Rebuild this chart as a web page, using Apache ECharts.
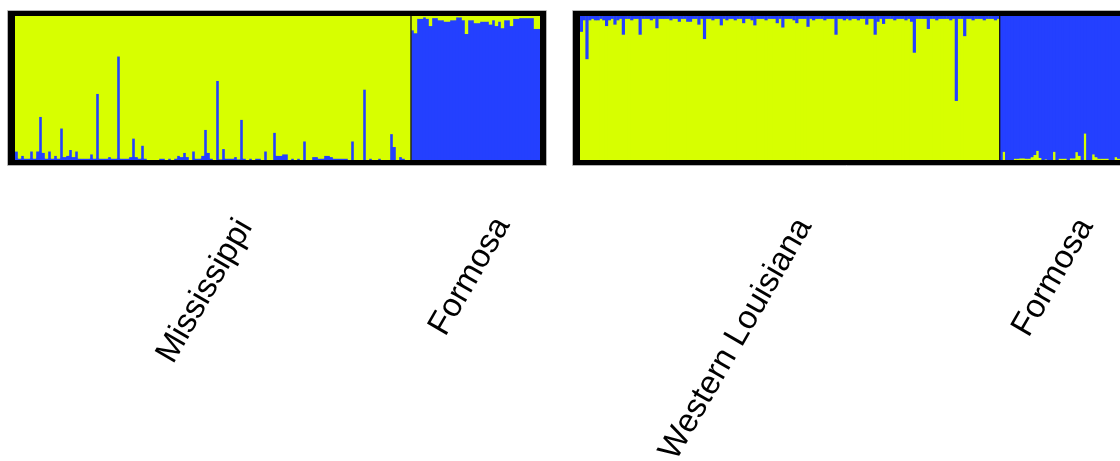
<!DOCTYPE html>
<html>
<head>
<meta charset="utf-8">
<script src="https://cdn.jsdelivr.net/npm/echarts@6/dist/echarts.min.js"></script>
<style>
  html, body { margin: 0; padding: 0; background: #fff; }
  #chart { width: 1120px; height: 461px; }
</style>
</head>
<body>
<div id="chart"></div>
<script>
// Ancestry proportions (K = 2) per individual, one value per bar.
// Mississippi: share of the blue cluster (rest is yellow)
const mississippiBlue = [
  0.06, 0.01, 0.03, 0.01, 0.01, 0.06, 0.01, 0.06, 0.30, 0.05,
  0.01, 0.06, 0.01, 0.03, 0.01, 0.22, 0.02, 0.03, 0.07, 0.02,
  0.06, 0.01, 0.01, 0.01, 0.01, 0.04, 0.01, 0.46, 0.01, 0.01,
  0.01, 0.02, 0.01, 0.01, 0.72, 0.01, 0.01, 0.01, 0.02, 0.15,
  0.02, 0.01, 0.10, 0.01, 0.00, 0.00, 0.00, 0.00, 0.01, 0.01,
  0.00, 0.01, 0.00, 0.01, 0.03, 0.02, 0.05, 0.02, 0.00, 0.06,
  0.01, 0.01, 0.03, 0.21, 0.05, 0.01, 0.00, 0.55, 0.005, 0.076,
  0.01, 0.01, 0.01, 0.02, 0.005, 0.28, 0.01, 0.00, 0.01, 0.00,
  0.01, 0.01, 0.00, 0.06, 0.00, 0.00, 0.19, 0.03, 0.03, 0.04,
  0.04, 0.00, 0.01, 0.00, 0.01, 0.00, 0.13, 0.00, 0.00, 0.02,
  0.02, 0.01, 0.01, 0.03, 0.03, 0.02, 0.01, 0.01, 0.01, 0.01,
  0.01, 0.00, 0.13, 0.00, 0.00, 0.00, 0.49, 0.00, 0.01, 0.00,
  0.00, 0.01, 0.00, 0.00, 0.00, 0.18, 0.09, 0.00, 0.02, 0.01,
  0.00, 0.00
];
// Formosa (left panel): share of the yellow cluster (rest is blue)
const formosaAYellow = [
  0.10, 0.12, 0.02, 0.02, 0.01, 0.02, 0.07, 0.015, 0.015, 0.03,
  0.03, 0.04, 0.04, 0.03, 0.03, 0.01, 0.01, 0.03, 0.125, 0.03,
  0.03, 0.05, 0.05, 0.04, 0.04, 0.04, 0.06, 0.03, 0.07, 0.04,
  0.085, 0.03, 0.03, 0.07, 0.02, 0.02, 0.015, 0.015, 0.015, 0.015,
  0.015, 0.09, 0.09
];
// Western Louisiana: share of the blue cluster (rest is yellow)
const westernLouisianaBlue = [
  0.11, 0.03, 0.30, 0.03, 0.02, 0.03, 0.03, 0.02, 0.03, 0.07,
  0.03, 0.02, 0.06, 0.03, 0.02, 0.13, 0.02, 0.02, 0.03, 0.02,
  0.02, 0.13, 0.02, 0.02, 0.02, 0.03, 0.02, 0.085, 0.02, 0.02,
  0.02, 0.02, 0.03, 0.02, 0.02, 0.04, 0.02, 0.02, 0.04, 0.04,
  0.02, 0.02, 0.06, 0.02, 0.16, 0.02, 0.02, 0.03, 0.02, 0.02,
  0.065, 0.02, 0.03, 0.02, 0.02, 0.03, 0.02, 0.02, 0.05, 0.02,
  0.02, 0.03, 0.065, 0.02, 0.02, 0.02, 0.03, 0.02, 0.02, 0.02,
  0.05, 0.02, 0.08, 0.02, 0.02, 0.02, 0.03, 0.05, 0.02, 0.02,
  0.02, 0.075, 0.02, 0.03, 0.02, 0.02, 0.02, 0.03, 0.02, 0.02,
  0.02, 0.13, 0.02, 0.02, 0.03, 0.02, 0.03, 0.02, 0.02, 0.03,
  0.02, 0.02, 0.06, 0.02, 0.02, 0.13, 0.04, 0.02, 0.055, 0.02,
  0.02, 0.02, 0.03, 0.02, 0.02, 0.02, 0.03, 0.02, 0.04, 0.255,
  0.02, 0.02, 0.02, 0.02, 0.09, 0.02, 0.02, 0.03, 0.02, 0.02,
  0.02, 0.02, 0.03, 0.02, 0.59, 0.02, 0.02, 0.14, 0.02, 0.02,
  0.03, 0.02, 0.02, 0.02, 0.03, 0.02, 0.02, 0.02, 0.03, 0.02
];
// Formosa (right panel): share of the yellow cluster (rest is blue)
const formosaBYellow = [
  0.00, 0.058, 0.00, 0.00, 0.00, 0.01, 0.01, 0.012, 0.012, 0.01,
  0.01, 0.02, 0.035, 0.065, 0.015, 0.00, 0.005, 0.00, 0.00, 0.058,
  0.00, 0.01, 0.01, 0.01, 0.00, 0.012, 0.012, 0.055, 0.03, 0.00,
  0.185, 0.00, 0.00, 0.04, 0.02, 0.01, 0.01, 0.01, 0.01, 0.00,
  0.00, 0.02, 0.01
];
const groupNames = ['Mississippi', 'Formosa', 'Western Louisiana', 'Formosa'];

const YELLOW = '#d7ff00';
const BLUE = '#2440ff';
const PLOT_TOP = 16, PLOT_H = 144;
// plot areas (inside the black frames); barPx slightly exceeds the
// category width so neighbouring bars close up
const panels = [
  { left: 15, width: 525, barPx: 3.4 },
  { left: 580, width: 543, barPx: 3.2 }
];

function ids(prefix, n) {
  const out = [];
  for (let i = 0; i < n; i++) out.push(prefix + (i + 1));
  return out;
}
const comp = arr => arr.map(v => +(1 - v).toFixed(4));

// panel 1: Mississippi + Formosa, blue stacked under yellow
const cats1 = ids('MS', mississippiBlue.length).concat(ids('FA', formosaAYellow.length));
const blue1 = mississippiBlue.concat(comp(formosaAYellow));
const yellow1 = comp(mississippiBlue).concat(formosaAYellow);
// panel 2: Western Louisiana + Formosa, yellow stacked under blue
const cats2 = ids('WL', westernLouisianaBlue.length).concat(ids('FB', formosaBYellow.length));
const yellow2 = comp(westernLouisianaBlue).concat(formosaBYellow);
const blue2 = westernLouisianaBlue.concat(comp(formosaBYellow));

function barSeries(idx, stack, data, color) {
  return {
    type: 'bar', xAxisIndex: idx, yAxisIndex: idx, stack: stack, z: 2,
    data: data, barWidth: panels[idx].barPx,
    itemStyle: { color: color, borderWidth: 0 },
    silent: true, animation: false
  };
}

const chart = echarts.init(document.getElementById('chart'), null, { renderer: 'canvas' });
chart.setOption({
  animation: false,
  backgroundColor: '#ffffff',
  grid: panels.map(p => ({ left: p.left, top: PLOT_TOP, width: p.width, height: PLOT_H, containLabel: false })),
  xAxis: [
    { type: 'category', gridIndex: 0, data: cats1, show: false },
    { type: 'category', gridIndex: 1, data: cats2, show: false }
  ],
  yAxis: [
    { type: 'value', gridIndex: 0, min: 0, max: 1, show: false },
    { type: 'value', gridIndex: 1, min: 0, max: 1, show: false }
  ],
  series: [
    barSeries(0, 'p1', blue1, BLUE),
    barSeries(0, 'p1', yellow1, YELLOW),
    barSeries(1, 'p2', yellow2, YELLOW),
    barSeries(1, 'p2', blue2, BLUE)
  ]
});

// group underlays, frames, dividers and rotated group labels
const frame = { top: 5, bottom: 5, left: 7, right: 6 };
const labelFont = '33px "Liberation Sans", Arial, sans-serif';
const labelAngle = 60 * Math.PI / 180;
const labelPlace = [
  { dx: 32, y: 222 },
  { dx: 27, y: 220 },
  { dx: 14.5, y: 221 },
  { dx: 26, y: 221 }
];
const groups = [
  { axis: 0, cats: cats1, from: 0, to: mississippiBlue.length - 1, main: YELLOW },
  { axis: 0, cats: cats1, from: mississippiBlue.length, to: cats1.length - 1, main: BLUE },
  { axis: 1, cats: cats2, from: 0, to: westernLouisianaBlue.length - 1, main: YELLOW },
  { axis: 1, cats: cats2, from: westernLouisianaBlue.length, to: cats2.length - 1, main: BLUE }
];
const px = (axis, name) => chart.convertToPixel({ xAxisIndex: axis }, name);

const elements = [];
// majority-cluster underlay behind each group's bars
groups.forEach(g => {
  const half = (px(g.axis, g.cats[1]) - px(g.axis, g.cats[0])) / 2;
  const xa = px(g.axis, g.cats[g.from]) - half;
  const xb = px(g.axis, g.cats[g.to]) + half;
  elements.push({ type: 'rect', z: 0, silent: true, shape: { x: xa, y: PLOT_TOP, width: xb - xa, height: PLOT_H }, style: { fill: g.main } });
});
panels.forEach(p => {
  const x0 = p.left - frame.left, x1 = p.left + p.width + frame.right;
  const y0 = PLOT_TOP - frame.top, y1 = PLOT_TOP + PLOT_H + frame.bottom;
  const fill = { fill: '#000' };
  elements.push(
    { type: 'rect', z: 100, shape: { x: x0 - 0.5, y: y0 - 0.5, width: x1 - x0 + 1, height: y1 - y0 + 1 }, style: { fill: null, stroke: '#b4b4b4', lineWidth: 1 } },
    { type: 'rect', z: 101, shape: { x: x0, y: y0, width: x1 - x0, height: frame.top }, style: fill },
    { type: 'rect', z: 101, shape: { x: x0, y: y1 - frame.bottom, width: x1 - x0, height: frame.bottom }, style: fill },
    { type: 'rect', z: 101, shape: { x: x0, y: y0, width: frame.left, height: y1 - y0 }, style: fill },
    { type: 'rect', z: 101, shape: { x: x1 - frame.right, y: y0, width: frame.right, height: y1 - y0 }, style: fill }
  );
});
// dividers between neighbouring groups
[[0, cats1, mississippiBlue.length], [1, cats2, westernLouisianaBlue.length]].forEach(([axis, cats, n]) => {
  const xb = (px(axis, cats[n - 1]) + px(axis, cats[n])) / 2;
  elements.push({ type: 'line', z: 100, shape: { x1: xb, y1: PLOT_TOP, x2: xb, y2: PLOT_TOP + PLOT_H }, style: { stroke: '#111', lineWidth: 1.3 } });
});
groups.forEach((g, i) => {
  const cx = (px(g.axis, g.cats[g.from]) + px(g.axis, g.cats[g.to])) / 2;
  elements.push({
    type: 'text', z: 100,
    x: cx + labelPlace[i].dx, y: labelPlace[i].y, rotation: labelAngle,
    style: { text: groupNames[i], font: labelFont, fill: '#000', align: 'right', verticalAlign: 'middle', textAlign: 'right', textVerticalAlign: 'middle' }
  });
});
chart.setOption({ graphic: { elements: elements } });
</script>
</body>
</html>
